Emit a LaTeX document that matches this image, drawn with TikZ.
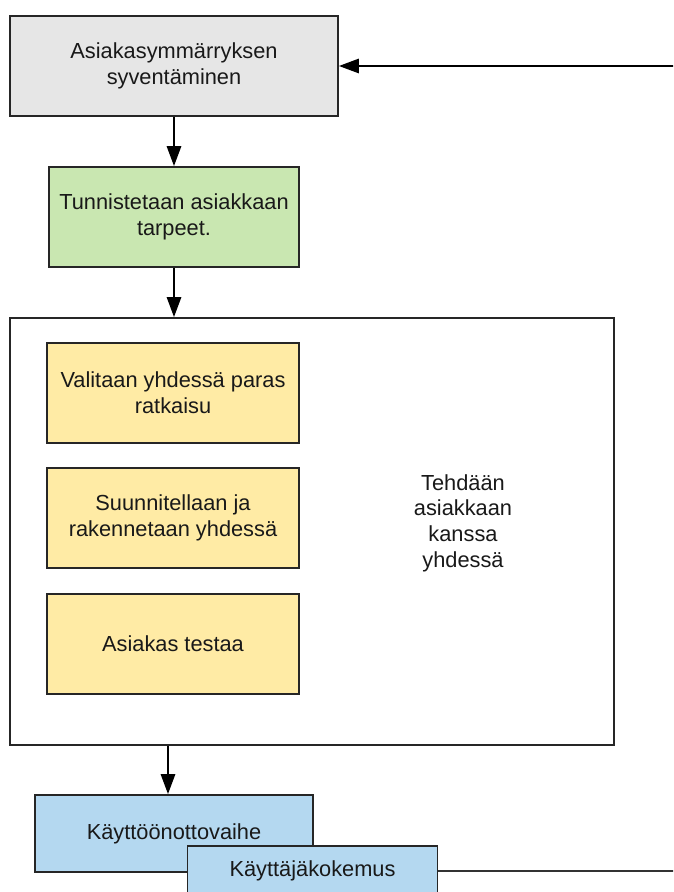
\documentclass[tikz,border=0pt]{standalone}
\usepackage{fontspec}
\setmainfont{Liberation Sans}
\usetikzlibrary{arrows.meta}

\definecolor{boxgrey}{HTML}{E6E6E6}
\definecolor{boxgreen}{HTML}{C9E7B1}
\definecolor{boxyellow}{HTML}{FFEBA5}
\definecolor{boxblue}{HTML}{B4D8F0}

\tikzset{
  box/.style={draw=black!85,line width=1.3pt,align=center,
    minimum width=6.25cm,minimum height=2.5cm,inner sep=2pt},
  ->/.style={draw=black,line width=1.3pt,-{Triangle[length=0.5cm,width=0.36cm]}},
  link/.style={draw=black!80,line width=1.2pt}
}
\tikzstyle{every node}=[font=\fontsize{15.5}{18.2}\selectfont,text=black!90]

\begin{document}
\begin{tikzpicture}[x=0.025cm,y=-0.025cm]
    \clip (0,0) rectangle (673,892);
    \fill[white] (0,0) rectangle (673,892);
    \node[box,fill=boxgrey,minimum width=8.2cm] (grey) at (174,66) {Asiakasymmärryksen\\syventäminen};
    \node[box,fill=boxgreen] (green) at (174,217) {Tunnistetaan asiakkaan\\tarpeet.};
    \node[box,minimum width=15.1cm,minimum height=10.675cm] (frame) at (312,531.5) {};
    \node[box,fill=boxyellow,minimum width=6.3cm] (y1) at (173,393) {Valitaan yhdessä paras\\ratkaisu};
    \node[box,fill=boxyellow,minimum width=6.3cm] (y2) at (173,518) {Suunnitellaan ja\\rakennetaan yhdessä};
    \node[box,fill=boxyellow,minimum width=6.3cm] (y3) at (173,644) {Asiakas testaa};
    \node[align=center] (together) at (463,523) {Tehdään\\asiakkaan\\kanssa\\yhdessä};
    \node[box,fill=boxblue,minimum width=6.95cm,minimum height=1.925cm] (deploy) at (174,833.5) {Käyttöönottovaihe};
    \node[box,fill=boxblue,minimum height=1.25cm] (ux) at (312.5,871) {Käyttäjäkokemus};
    \coordinate (back) at (680,66);
    \coordinate (out) at (680,871);
    \draw [->] (back) -- (grey);
    \draw [->] (grey) -- (green);
    \draw [->] (green) -- (frame.north -| green);
    \draw [->] ([xshift=-0.15cm]frame.south -| deploy) -- ([xshift=-0.15cm]deploy.north);
    \draw [link] (ux) -- (out);
\end{tikzpicture}
\end{document}
